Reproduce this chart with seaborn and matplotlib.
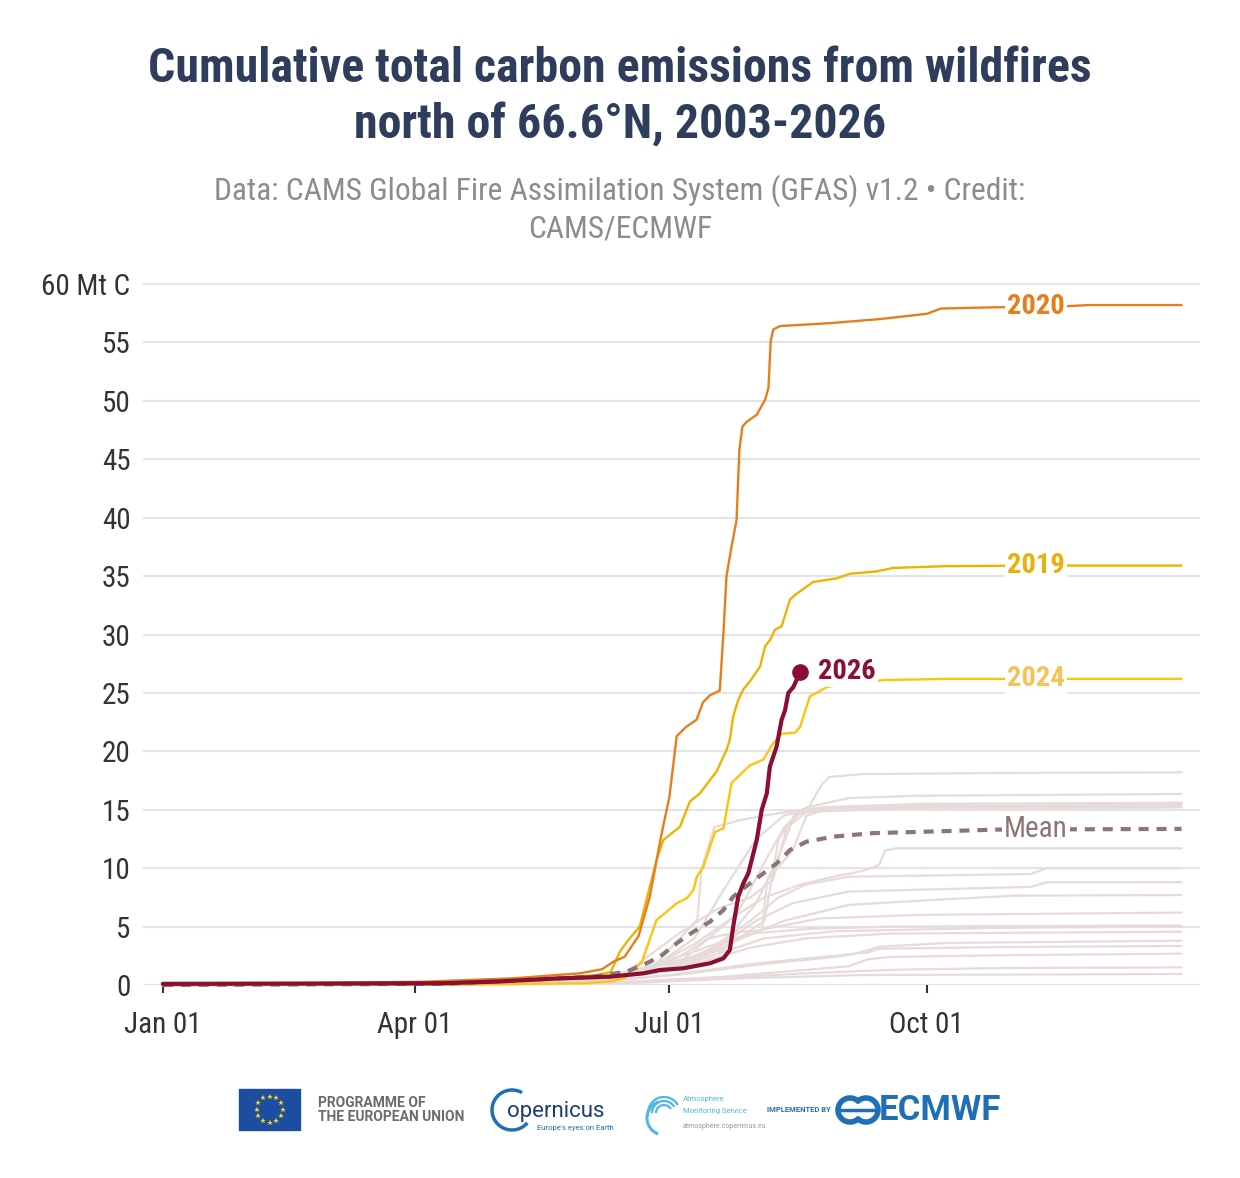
import matplotlib
matplotlib.use("Agg")
import matplotlib.pyplot as plt
from matplotlib.patches import Arc
import numpy as np
import pandas as pd
import seaborn as sns

# ---------------- data (day of year, cumulative Mt C) ----------------
d2020 = [0, 93, 125, 149, 157, 161, 165, 170, 174, 178, 181, 183.6, 187, 190.7, 193, 195.5, 199, 200.3,
         201.4, 203.2, 205, 206, 207.1, 208.6, 212.2, 215.2, 216.4, 217.2, 218.1, 220.5, 238.4, 256.3,
         273, 278, 296, 323, 331, 364]
v2020 = [0, 0.28, 0.57, 1.0, 1.35, 2.0, 2.42, 4.2, 7.56, 12.7, 16.1, 21.3, 22.1, 22.7, 24.2, 24.8, 25.2, 30.1,
         35.0, 37.5, 39.8, 45.8, 47.8, 48.2, 48.8, 50.1, 51.1, 55.1, 56.1, 56.4, 56.65, 57.0,
         57.45, 57.9, 58.0, 58.1, 58.2, 58.2]

d2019 = [0, 93, 125, 142, 155, 160, 163.3, 166.3, 170.4, 173.4, 176.4, 178.8, 184.8, 188.3, 191.9, 197.9,
         201.4, 202.6, 203.8, 205.6, 207.4, 209.8, 213.4, 215.2, 216.9, 218.7, 221.1, 224.1, 226.5, 232.4,
         240.7, 245.5, 255, 261, 280, 310, 364]
v2019 = [0, 0.1, 0.3, 0.6, 0.85, 1.1, 2.85, 3.85, 5.0, 7.85, 10.7, 12.4, 13.55, 15.7, 16.4, 18.3,
         20.1, 21.0, 23.0, 24.4, 25.3, 26.0, 27.25, 29.0, 29.5, 30.4, 30.7, 33.0, 33.5, 34.5,
         34.8, 35.2, 35.4, 35.7, 35.85, 35.9, 35.9]

d2024 = [0, 100, 150, 160, 165, 167.4, 171, 176.4, 179.4, 183.6, 187.2, 189.6, 190.8, 193.1, 197.3, 200.3,
         203.2, 209.8, 214.6, 218.1, 221.1, 225.9, 227.7, 231.2, 233.6, 237.2, 239.6, 257.5, 280, 364]
v2024 = [0, 0.02, 0.15, 0.3, 0.6, 1.28, 1.86, 5.57, 6.14, 7.0, 7.42, 8.13, 9.27, 10.1, 13.1, 13.4,
         17.3, 18.8, 19.3, 20.7, 21.5, 21.6, 22.1, 24.7, 25.0, 25.5, 25.6, 26.1, 26.2, 26.2]

d2026 = [0, 100, 120, 142, 159.8, 171.7, 177.6, 186, 195.5, 200.3, 202.6, 203.8, 205.6, 207.4, 209.2,
         212.2, 214, 215.8, 216.9, 219.3, 221.1, 222.3, 223.5, 225.3, 227.7]
v2026 = [0.1, 0.15, 0.3, 0.57, 0.71, 1.0, 1.28, 1.43, 1.86, 2.28, 3.0, 5.0, 7.56, 8.7, 9.56,
         12.4, 15.0, 16.4, 18.7, 20.4, 22.7, 23.5, 25.0, 25.5, 26.8]

d_mean = [0, 100, 142, 153.8, 165.7, 172.8, 177.6, 183.6, 189.6, 195.5, 200.3, 203.8, 209.8, 219.3,
          224.1, 230, 239.6, 253.9, 269.3, 297.9, 364]
v_mean = [0, 0.1, 0.57, 0.71, 1.14, 1.86, 2.42, 3.57, 4.56, 5.42, 6.42, 7.56, 8.7, 10.4,
          11.56, 12.27, 12.7, 13.0, 13.1, 13.3, 13.36]

# other years (light grey)
d2003 = [0, 90, 150, 180, 200, 215, 240, 300, 364]
v2003 = [0, 0.03, 0.3, 1.2, 2.8, 4.0, 4.6, 4.9, 5.0]
d2004 = [0, 90, 150, 185, 205, 215, 222, 230, 245, 270, 364]
v2004 = [0, 0.05, 0.3, 2.0, 6.0, 10.5, 13.5, 15.2, 16.0, 16.2, 16.35]
d2005 = [0, 90, 150, 180, 210, 240, 252, 256, 300, 364]
v2005 = [0, 0.02, 0.2, 0.8, 1.8, 2.5, 2.8, 3.1, 3.25, 3.34]
d2006 = [0, 100, 160, 200, 230, 260, 300, 364]
v2006 = [0, 0.02, 0.2, 0.6, 1.0, 1.3, 1.45, 1.51]
d2007 = [0, 90, 150, 180, 200, 215, 235, 270, 364]
v2007 = [0, 0.05, 0.4, 1.5, 3.5, 4.8, 5.7, 6.0, 6.2]
d2008 = [0, 120, 170, 210, 250, 364]
v2008 = [0, 0.02, 0.2, 0.6, 0.85, 0.94]
d2009 = [0, 90, 150, 185, 205, 222, 245, 275, 305, 364]
v2009 = [0, 0.05, 0.3, 1.5, 3.8, 5.5, 6.85, 7.28, 7.65, 7.7]
d2010 = [0, 90, 150, 175, 191, 192.5, 197, 206, 216, 232, 270, 364]
v2010 = [0, 0.05, 0.4, 1.5, 5.6, 10.0, 13.5, 14.1, 14.55, 15.1, 15.3, 15.3]
d2011 = [0, 90, 150, 185, 215, 240, 246, 252, 256, 280, 364]
v2011 = [0, 0.03, 0.25, 0.9, 1.8, 2.4, 2.6, 3.0, 3.28, 3.6, 3.79]
d2012 = [0, 90, 150, 175, 195, 210, 230, 260, 364]
v2012 = [0, 0.05, 0.4, 1.6, 3.3, 4.4, 4.8, 5.0, 5.1]
d2013 = [0, 90, 150, 185, 200, 212, 225, 245, 310, 316, 364]
v2013 = [0, 0.05, 0.3, 1.5, 3.5, 5.5, 7.0, 8.0, 8.4, 8.8, 8.8]
d2014 = [0, 120, 160, 200, 215, 220, 226, 240, 364]
v2014 = [0, 0.2, 0.8, 3.0, 5.5, 12.5, 14.6, 15.2, 15.5]
d2015 = [0, 90, 160, 200, 230, 245, 252, 260, 300, 364]
v2015 = [0, 0.02, 0.2, 0.7, 1.3, 1.6, 2.2, 2.4, 2.55, 2.68]
d2016 = [0, 90, 150, 190, 210, 230, 260, 364]
v2016 = [0, 0.03, 0.3, 1.8, 3.2, 4.0, 4.4, 4.56]
d2017 = [0, 120, 170, 190, 205, 215, 228, 240, 247, 252, 256, 258, 262, 364]
v2017 = [0, 0.2, 1.0, 3.5, 6.0, 7.5, 8.6, 9.3, 9.6, 9.9, 10.3, 11.5, 11.7, 11.7]
d2018 = [0, 90, 150, 175, 190, 200, 212, 222, 235, 270, 364]
v2018 = [0, 0.05, 0.3, 1.5, 4.0, 8.0, 12.5, 14.5, 15.2, 15.5, 15.6]
d2021 = [0, 90, 150, 180, 200, 212, 220, 226, 231, 235, 238, 250, 300, 364]
v2021 = [0, 0.05, 0.3, 1.2, 3.5, 7.0, 11.0, 14.7, 15.3, 17.0, 17.8, 18.05, 18.15, 18.2]
d2022 = [0, 120, 175, 195, 210, 220, 230, 245, 310, 316, 364]
v2022 = [0, 0.15, 1.0, 3.0, 5.5, 7.5, 8.6, 9.27, 9.5, 10.0, 10.0]
d2023 = [0, 120, 165, 185, 198, 210, 218, 223, 230, 260, 364]
v2023 = [0, 0.2, 1.0, 4.5, 6.5, 7.5, 9.0, 13.5, 14.8, 15.1, 15.2]
d2025 = [0, 100, 160, 185, 195, 205, 214, 216, 225, 230, 240, 364]
v2025 = [0, 0.1, 0.6, 2.5, 4.0, 4.5, 4.7, 9.0, 11.5, 14.5, 15.2, 15.4]

grey_years = [2003, 2004, 2005, 2006, 2007, 2008, 2009, 2010, 2011, 2012, 2013, 2014, 2015, 2016,
              2017, 2018, 2021, 2022, 2023, 2025]
grey_days = [d2003, d2004, d2005, d2006, d2007, d2008, d2009, d2010, d2011, d2012, d2013, d2014,
             d2015, d2016, d2017, d2018, d2021, d2022, d2023, d2025]
grey_vals = [v2003, v2004, v2005, v2006, v2007, v2008, v2009, v2010, v2011, v2012, v2013, v2014,
             v2015, v2016, v2017, v2018, v2021, v2022, v2023, v2025]

tick_days = [0, 90, 181, 273]
tick_labels = ["Jan 01", "Apr 01", "Jul 01", "Oct 01"]
y_ticks = list(range(0, 61, 5))
y_labels = [str(t) for t in y_ticks[:-1]] + ["60 Mt C"]

title_lines = ["Cumulative total carbon emissions from wildfires", "north of 66.6°N, 2003-2026"]
subtitle_lines = ["Data: CAMS Global Fire Assimilation System (GFAS) v1.2 • Credit:", "CAMS/ECMWF"]

# ---------------- style ----------------
sns.set_theme(style="white")
plt.rcParams["font.family"] = ["Roboto Condensed", "Roboto", "DejaVu Sans"]

C2020 = "#E57E1C"
C2019 = "#EEB300"
C2024 = "#FCC40E"
C2026 = "#8A0F30"
CMEAN = "#8C7575"
CGREY = "#E6DBD9"

W, H = 1240, 1178
fig = plt.figure(figsize=(W / 100, H / 100), dpi=100)
ax = fig.add_axes([143 / W, 1 - 985 / H, (1200 - 143) / W, (985 - 280.5) / H])

grey_df = pd.DataFrame({
    "year": np.concatenate([[y] * len(d) for y, d in zip(grey_years, grey_days)]),
    "day": np.concatenate(grey_days),
    "value": np.concatenate(grey_vals),
})
sns.lineplot(data=grey_df, x="day", y="value", units="year", estimator=None, color=CGREY,
             lw=1.6, ax=ax, legend=False)

sns.lineplot(x=d2024, y=v2024, color=C2024, lw=1.7, ax=ax)
sns.lineplot(x=d2019, y=v2019, color=C2019, lw=1.7, ax=ax)
sns.lineplot(x=d2020, y=v2020, color=C2020, lw=1.7, ax=ax)
sns.lineplot(x=d_mean, y=v_mean, color=CMEAN, lw=3.0, ax=ax)
ax.lines[-1].set_dashes([2.4, 1.9])
sns.lineplot(x=d2026, y=v2026, color=C2026, lw=3.0, ax=ax)
ax.plot([d2026[-1]], [v2026[-1]], "o", color=C2026, ms=11, zorder=10)
for ln in ax.lines:
    ln.set_clip_on(False)
    ln.set_solid_capstyle("round")

ax.set_xlim(-7.1, 370.6)
ax.set_ylim(0, 60.3)
ax.set_yticks(y_ticks)
ax.set_yticklabels(y_labels)
ax.set_xticks(tick_days)
ax.set_xticklabels(tick_labels)
ax.set_xlabel("")
ax.set_ylabel("")
for s in ax.spines.values():
    s.set_visible(False)
ax.yaxis.grid(True, color="#E4E4E4", lw=1.5, zorder=0)
ax.set_axisbelow(True)
ax.tick_params(axis="y", length=0, pad=9, labelsize=21, labelcolor="#333333")
ax.tick_params(axis="x", length=6, width=1.5, color="#333333", pad=13, labelsize=21,
               labelcolor="#333333", bottom=True, direction="out")

# end labels
lab_day = 312
bb = dict(facecolor="white", edgecolor="none", pad=1.5)
def end_value(days, vals, day):
    return float(np.interp(day, days, vals))
ax.text(lab_day, end_value(d2020, v2020, lab_day), "2020", color=C2020, fontsize=20.5, weight="bold",
        ha="center", va="center", bbox=bb, zorder=20)
ax.text(lab_day, end_value(d2019, v2019, lab_day), "2019", color="#E9B00A", fontsize=20.5, weight="bold",
        ha="center", va="center", bbox=bb, zorder=20)
ax.text(lab_day, end_value(d2024, v2024, lab_day), "2024", color="#F3C35A", fontsize=20.5, weight="bold",
        ha="center", va="center", bbox=bb, zorder=20)
ax.text(lab_day, end_value(d_mean, v_mean, lab_day), "Mean", color=CMEAN, fontsize=21,
        ha="center", va="center", bbox=bb, zorder=20)
ax.text(d2026[-1] + 6.5, v2026[-1], "2026", color=C2026, fontsize=20.5, weight="bold",
        ha="left", va="center", bbox=bb, zorder=20)

# titles
fig.text(0.5, 1 - 69 / H, title_lines[0], ha="center", va="center", fontsize=34.5, weight="bold",
         color="#2E3D5C")
fig.text(0.5, 1 - 125 / H, title_lines[1], ha="center", va="center", fontsize=34.5, weight="bold",
         color="#2E3D5C")
fig.text(0.5, 1 - 191 / H, subtitle_lines[0], ha="center", va="center", fontsize=22.7, color="#8C8C8C")
fig.text(0.5, 1 - 229 / H, subtitle_lines[1], ha="center", va="center", fontsize=22.7, color="#8C8C8C")

# ---------------- logo strip (drawn in pixel coordinates) ----------------
lx = fig.add_axes([0, 0, 1, 1], zorder=-1)
lx.set_xlim(0, W)
lx.set_ylim(H, 0)
lx.axis("off")
lf = ["Roboto", "DejaVu Sans"]
lx.add_patch(plt.Rectangle((239, 1089), 61, 41, color="#1C4DA0"))
ang = np.linspace(0, 2 * np.pi, 13)[:-1]
lx.plot(269.5 + 13 * np.cos(ang), 1109.5 + 13 * np.sin(ang), "*", color="#FFD617", ms=4, mew=0)
lx.text(318, 1103, "PROGRAMME OF", fontsize=10, weight="bold", color="#6B6B6B", va="center", family=lf)
lx.text(318, 1117, "THE EUROPEAN UNION", fontsize=10, weight="bold", color="#6B6B6B", va="center", family=lf)
lx.add_patch(Arc((512, 1110), 40, 40, theta1=40, theta2=300, color="#1E6FB5", lw=2.5))
lx.text(507, 1112, "opernicus", fontsize=16, color="#1D3C78", va="center", family=lf)
lx.text(537, 1128, "Europe's eyes on Earth", fontsize=5.5, color="#1E6FB5", va="center", family=lf)
for r in (16, 12, 8):
    lx.add_patch(Arc((664, 1113), r * 2, r * 2, theta1=180, theta2=330, color="#4CB8E3", lw=1.6))
lx.add_patch(Arc((664, 1118), 34, 34, theta1=110, theta2=250, color="#4CB8E3", lw=2.2))
lx.text(683, 1099, "Atmosphere", fontsize=5.5, color="#4CB8E3", va="center", family=lf)
lx.text(683, 1111, "Monitoring Service", fontsize=5.5, color="#4CB8E3", va="center", family=lf)
lx.text(683, 1127, "atmosphere.copernicus.eu", fontsize=5, color="#999999", va="center", family=lf)
lx.text(767, 1110, "IMPLEMENTED BY", fontsize=5.5, weight="bold", color="#1E6FB5", va="center", family=lf)
lx.add_patch(Arc((850, 1110), 24, 24, theta1=40, theta2=320, color="#1E6FB5", lw=4))
lx.add_patch(Arc((866, 1110), 24, 24, theta1=220, theta2=140, color="#1E6FB5", lw=4))
lx.plot([838, 878], [1110, 1110], color="#1E6FB5", lw=2.5)
lx.text(879, 1111, "ECMWF", fontsize=25, weight="bold", color="#1E6FB5", va="center", family=lf)

fig.savefig("out.png", dpi=100)
